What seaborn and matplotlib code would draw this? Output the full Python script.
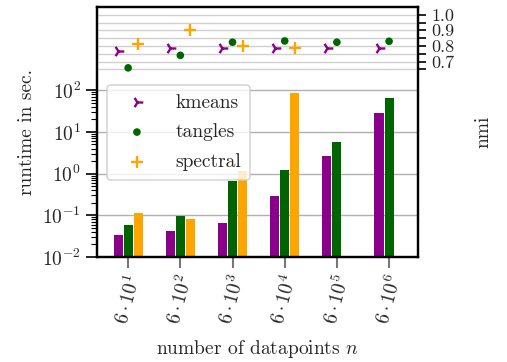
import numpy as np
import pandas as pd
import matplotlib
matplotlib.use("Agg")
import matplotlib.pyplot as plt
import seaborn as sns

# Problem sizes (number of datapoints) and their axis labels
sizes = ["6e1", "6e2", "6e3", "6e4", "6e5", "6e6"]
size_labels = [r"$\mathit{6\cdot 10^{1}}$", r"$\mathit{6\cdot 10^{2}}$", r"$\mathit{6\cdot 10^{3}}$",
               r"$\mathit{6\cdot 10^{4}}$", r"$\mathit{6\cdot 10^{5}}$", r"$\mathit{6\cdot 10^{6}}$"]
methods = ["kmeans", "tangles", "spectral"]

# Runtime in seconds
runtime_kmeans = [0.034, 0.042, 0.065, 0.29, 2.6, 28.0]
runtime_tangles = [0.058, 0.098, 0.66, 1.21, 5.7, 64.0]
runtime_spectral = [0.113, 0.081, 1.15, 88.0, np.nan, np.nan]

# Normalized mutual information
nmi_kmeans = [0.77, 0.785, 0.79, 0.785, 0.785, 0.785]
nmi_tangles = [0.66, 0.74, 0.824, 0.832, 0.824, 0.83]
nmi_spectral = [0.81, 0.90, 0.80, 0.79, np.nan, np.nan]

nmi_ticks = [0.65, 0.7, 0.75, 0.8, 0.85, 0.9, 0.95, 1.0]
nmi_tick_labels = ["", "0.7", "", "0.8", "", "0.9", "", "1.0"]

colors = {"kmeans": "#8b008b", "tangles": "#006400", "spectral": "#ffa500"}
markers = {"kmeans": "4", "tangles": "o", "spectral": "+"}
msizes = {"kmeans": 70, "tangles": 30, "spectral": 80}

sns.set_theme(style="white")
plt.rcParams["font.family"] = ["serif"]
plt.rcParams["font.serif"] = ["cmr10", "DejaVu Serif"]
plt.rcParams["mathtext.fontset"] = "cm"
plt.rcParams["axes.formatter.use_mathtext"] = True

runtime = pd.DataFrame({
    "size": [s for s in sizes for _ in methods],
    "method": methods * len(sizes),
    "runtime": [v for trip in zip(runtime_kmeans, runtime_tangles, runtime_spectral) for v in trip],
})
nmi = {"kmeans": nmi_kmeans, "tangles": nmi_tangles, "spectral": nmi_spectral}

fig = plt.figure(figsize=(5.07, 3.62), dpi=100)
ax = fig.add_axes([0.191, 0.290, 0.633, 0.691])
ax.set_yscale("log")

group_width = 0.58
sns.barplot(data=runtime, x="size", y="runtime", hue="method", hue_order=methods,
            palette=colors, width=group_width, gap=0.1, ax=ax, legend=False,
            saturation=1.0, linewidth=0)
ax.set_ylim(1e-2, 1e4)
ax.set_yticks([1e-2, 1e-1, 1e0, 1e1, 1e2])
ax.set_yticks([k * 10.0 ** e for e in range(-2, 2) for k in range(2, 10)], minor=True)
ax.set_yticklabels([], minor=True)
ax.set_xlim(-0.6, 5.55)
ax.set_xticks(range(len(sizes)))
ax.set_xticklabels(size_labels, rotation=75, fontsize=14)
ax.tick_params(axis="y", which="major", labelsize=14, length=8, width=1.2, color="black", direction="out", left=True)
ax.tick_params(axis="y", which="minor", length=4, width=0.8, color="black", direction="out", left=True)
ax.tick_params(axis="x", which="major", length=8, width=1.5, color="#777777", bottom=True, pad=3)
ax.yaxis.grid(True, which="major", color="#b0b0b0", linewidth=1.0)
ax.set_axisbelow(True)
ax.set_xlabel(r"number of datapoints $n$", fontsize=14, labelpad=8)
ax.set_ylabel("runtime in sec.", fontsize=14, labelpad=4)
for sp in ax.spines.values():
    sp.set_linewidth(1.6)
    sp.set_color("black")

ax2 = ax.twinx()
step = group_width / len(methods)
for i, m in enumerate(methods):
    xs = np.arange(len(sizes)) + (i - 1) * step
    if m == "tangles":
        sns.scatterplot(x=xs, y=nmi[m], ax=ax2, marker=markers[m], color=colors[m],
                        s=msizes[m], edgecolor="none", label=m, zorder=4)
    else:
        sns.scatterplot(x=xs, y=nmi[m], ax=ax2, marker=markers[m], color=colors[m],
                        s=msizes[m], linewidth=1.7, label=m, zorder=4)
ax2.set_ylim(-0.55, 1.05)
ax2.set_yticks(nmi_ticks)
ax2.set_yticklabels(nmi_tick_labels)
ax2.tick_params(axis="y", labelsize=13, length=6, width=1.2, color="black", right=True, pad=4)
ax2.yaxis.grid(True, color="#d0d0d0", linewidth=1.0)
ax2.set_ylabel("nmi", fontsize=14, labelpad=14)
ax2.set_xlim(ax.get_xlim())
for sp in ax2.spines.values():
    sp.set_linewidth(1.6)
    sp.set_color("black")

leg = ax2.legend(loc="upper left", bbox_to_anchor=(0.031, 0.688), borderaxespad=0,
                 fontsize=14, frameon=True, framealpha=0.8, edgecolor="#cccccc",
                 handletextpad=0.9, borderpad=0.45, labelspacing=0.6, handlelength=2.2)
leg.get_frame().set_linewidth(1.2)

fig.savefig("out.png", dpi=100)
